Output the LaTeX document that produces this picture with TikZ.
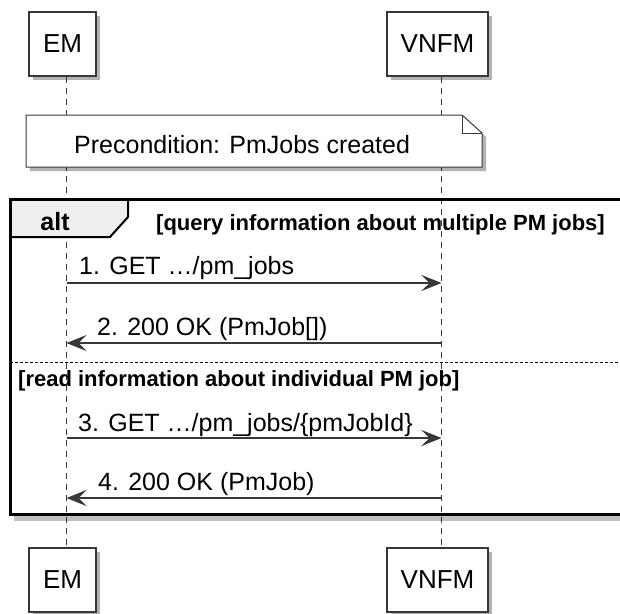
\documentclass[tikz,border=0pt]{standalone}
\usepackage{fontspec}
\setmainfont{Liberation Sans}
\usepackage{xcolor}
\usepackage{tikz}
\usetikzlibrary{arrows.meta,shadows}

\definecolor{umlline}{HTML}{383838}
\definecolor{tabgray}{HTML}{EEEEEE}

\begin{document}
\begin{tikzpicture}[x=1pt, y=-1pt,
    participant/.style={draw=umlline, line width=1.5pt, fill=white, inner sep=0pt,
        minimum height=64pt, font=\fontsize{26}{31}\selectfont,
        drop shadow={shadow xshift=4pt, shadow yshift=-4pt, opacity=0.3, fill=black}},
    lifeline/.style={umlline, line width=1pt, dash pattern=on 6pt off 5pt},
    msg/.style={umlline, line width=1.5pt, -{Stealth[length=20pt, width=16pt, inset=8pt]}},
    msglabel/.style={anchor=base west, inner sep=0pt, font=\fontsize{25}{30}\selectfont},
    guard/.style={anchor=base west, inner sep=0pt, font=\fontsize{22}{26}\selectfont\bfseries}]

    \useasboundingbox (0,0) rectangle (620,613);
    \clip (0,0) rectangle (620,613);

    % Draw the participants, top and bottom
    \node[participant, minimum width=67pt] (emTop) at (62.5,44) {EM};
    \node[participant, minimum width=101pt] (vnfmTop) at (437.5,44) {VNFM};
    \node[participant, minimum width=67pt] (emBot) at (62.5,580) {EM};
    \node[participant, minimum width=101pt] (vnfmBot) at (437.5,580) {VNFM};

    % Draw the lifelines
    \draw[lifeline] ([xshift=4pt]emTop.south) -- ([xshift=4pt]emBot.north);
    \draw[lifeline] ([xshift=4pt]vnfmTop.south) -- ([xshift=4pt]vnfmBot.north);

    % Add the precondition note with folded corner
    \filldraw[fill=white, draw=umlline, line width=1pt,
        drop shadow={shadow xshift=4pt, shadow yshift=-4pt, opacity=0.3, fill=black}]
        (26,115) -- (462,115) -- (482,133) -- (482,167) -- (26,167) -- cycle;
    \draw[umlline, line width=1pt] (462,115) -- (462,133) -- (482,133);
    \node[msglabel] (preNote) at (74,153) {Precondition: PmJobs created};

    % Draw the alt frame with its tab
    \fill[black, opacity=0.25] (14,516) rectangle (630,521);
    \filldraw[fill=tabgray, draw=black, line width=2pt]
        (10,199.5) -- (128,199.5) -- (128,217) -- (110,237) -- (10,237) -- cycle;
    \draw[black, line width=3pt] (10,199.5) rectangle (630,514.5);
    \node[anchor=base, inner sep=0pt, font=\fontsize{25}{30}\selectfont\bfseries] (altLabel) at (55,230) {alt};
    \node[guard] (guardQuery) at (156,230) {[query information about multiple PM jobs]};

    % Add the dashed divider between the two operands
    \draw[black, line width=1pt, dash pattern=on 3pt off 2pt] (10,362) -- (630,362);
    \node[guard] (guardRead) at (18,386) {[read information about individual PM job]};

    % Points on the lifelines where messages start and end
    \coordinate (em1) at (66.5,283);   \coordinate (vnfm1) at (441.5,283);
    \coordinate (em2) at (66.5,343);   \coordinate (vnfm2) at (441.5,343);
    \coordinate (em3) at (66.5,438);   \coordinate (vnfm3) at (441.5,438);
    \coordinate (em4) at (66.5,498);   \coordinate (vnfm4) at (441.5,498);

    % Draw the messages
    \draw[msg] (em1) -- (vnfm1);
    \node[msglabel] (msgOne) at (79,274) {1. GET …/pm\_jobs};
    \draw[msg] (vnfm2) -- (em2);
    \node[msglabel] (msgTwo) at (97,335) {2. 200 OK (PmJob[])};
    \draw[msg] (em3) -- (vnfm3);
    \node[msglabel] (msgThree) at (78,431) {3. GET …/pm\_jobs/\{pmJobId\}};
    \draw[msg] (vnfm4) -- (em4);
    \node[msglabel] (msgFour) at (98,490) {4. 200 OK (PmJob)};
\end{tikzpicture}
\end{document}
